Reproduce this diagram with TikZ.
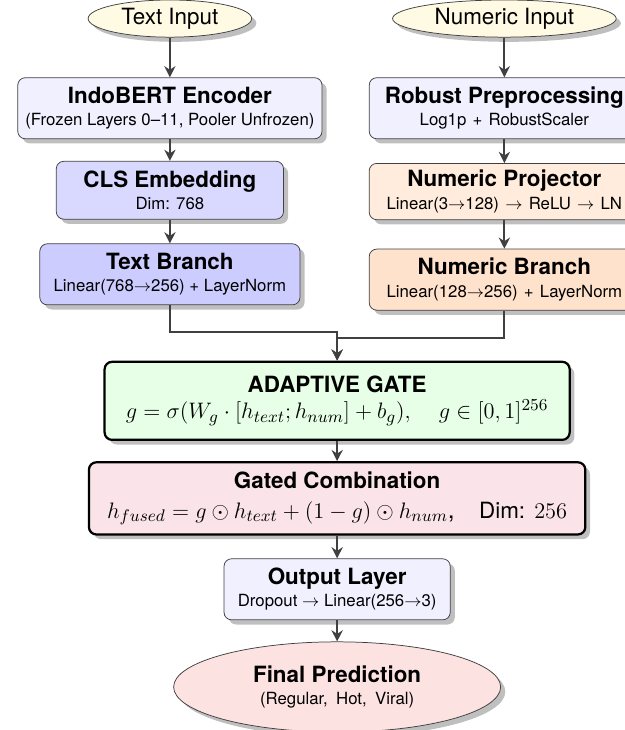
\documentclass[tikz,border=0pt]{standalone}
\usepackage{fontspec}
\setmainfont{TeX Gyre Heros}
\usepackage{amsmath}
\usepackage{amssymb}
\usepackage{tikz}
\usetikzlibrary{positioning,shapes.geometric,shadows,arrows.meta}
\definecolor{inputyellow}{RGB}{255,250,228}
\definecolor{encblue}{RGB}{240,240,255}
\definecolor{clsblue}{RGB}{217,217,255}
\definecolor{branchblue}{RGB}{204,204,255}
\definecolor{projorange}{RGB}{255,236,220}
\definecolor{branchorange}{RGB}{255,226,204}
\definecolor{gategreen}{RGB}{230,255,230}
\definecolor{fusepink}{RGB}{250,228,234}
\definecolor{predpink}{RGB}{253,226,226}
\newcommand{\formulasize}{\fontsize{13.1}{15}\selectfont}

\begin{document}
\begin{tikzpicture}[node distance=0.41cm,
  box/.style = {shape=rectangle, rounded corners=4pt, draw=black!75,
    align=center, inner xsep=2pt, inner ysep=3pt, minimum height=1.15cm,
    drop shadow={shadow xshift=2.5pt, shadow yshift=-2.5pt}},
  numbox/.style = {box, text width=4.95cm},
  io/.style = {shape=ellipse, draw=black!75, align=center,
    inner xsep=5pt, inner ysep=1pt, minimum height=0.70cm,
    drop shadow={shadow xshift=2.5pt, shadow yshift=-2.5pt}},
  core/.style = {box, draw=black, very thick},
  flow/.style = {draw=black!75, line width=1pt, -{Stealth[length=6pt,width=6pt]}}]
  \useasboundingbox (0,0) rectangle (11.76,-13.75);

  \node[io, fill=inputyellow, font=\large] (txtin) at (3.20,-0.35) {Text Input};
  \node[io, fill=inputyellow, font=\large] (numin) at (9.50,-0.35) {Numeric Input};

  \node[box, fill=encblue, minimum width=5.73cm, below=0.75cm of txtin] (bert)
    {{\large\bfseries IndoBERT Encoder}\\{\small (Frozen Layers 0--11, Pooler Unfrozen)}};
  \node[box, fill=clsblue, minimum width=4.28cm, minimum height=1.09cm, below=of bert] (cls)
    {{\large\bfseries CLS Embedding}\\{\small Dim: 768}};
  \node[box, fill=branchblue, minimum width=4.90cm, below=0.45cm of cls] (tb)
    {{\large\bfseries Text Branch}\\{\small Linear(768$\rightarrow$256) + LayerNorm}};

  \node[numbox, fill=encblue, below=0.75cm of numin] (prep)
    {{\large\bfseries Robust Preprocessing}\\{\small Log1p + RobustScaler}};
  \node[numbox, fill=projorange, minimum height=1.06cm, below=0.45cm of prep] (proj)
    {{\large\bfseries Numeric Projector}\\{\small Linear(3$\rightarrow$128) $\rightarrow$ ReLU $\rightarrow$ LN}};
  \node[numbox, fill=branchorange, below=0.54cm of proj] (nb)
    {{\large\bfseries Numeric Branch}\\{\small Linear(128$\rightarrow$256) + LayerNorm}};

  \node[core, fill=gategreen, minimum width=8.76cm, minimum height=1.47cm] (gate) at (6.35,-7.55)
    {{\large\bfseries ADAPTIVE GATE}\\[2pt]{\formulasize $g = \sigma(W_g \cdot [h_{text}; h_{num}] + b_g), \quad g \in [0,1]^{256}$}};
  \node[core, fill=fusepink, minimum width=9.35cm, minimum height=1.36cm, below=0.38cm of gate] (fuse)
    {{\large\bfseries Gated Combination}\\[4pt]{\formulasize $h_{fused} = g \odot h_{text} + (1-g) \odot h_{num}$,\quad{\large Dim:} $256$}};
  \node[box, fill=encblue, minimum width=4.26cm, below=0.43cm of fuse] (out)
    {{\large\bfseries Output Layer}\\{\small Dropout $\rightarrow$ Linear(256$\rightarrow$3)}};
  \node[io, fill=predpink, minimum width=6.16cm, minimum height=1.70cm, below=0.40cm of out] (pred)
    {{\large\bfseries Final Prediction}\\{\small (Regular,\enspace Hot,\enspace Viral)}};

  \draw[flow] (txtin) -- (bert);
  \draw[flow] (bert) -- (cls);
  \draw[flow] (cls) -- (tb);
  \draw[flow] (numin) -- (prep);
  \draw[flow] (prep) -- (proj);
  \draw[flow] (proj) -- (nb);
  \draw[flow] (tb.south) -- ++(0,-0.51) -| (gate.north);
  \draw[flow] (nb.south) -- ++(0,-0.51) -| (gate.north);
  \draw[flow] (gate) -- (fuse);
  \draw[flow] (fuse) -- (out);
  \draw[flow] (out) -- (pred);
\end{tikzpicture}
\end{document}
